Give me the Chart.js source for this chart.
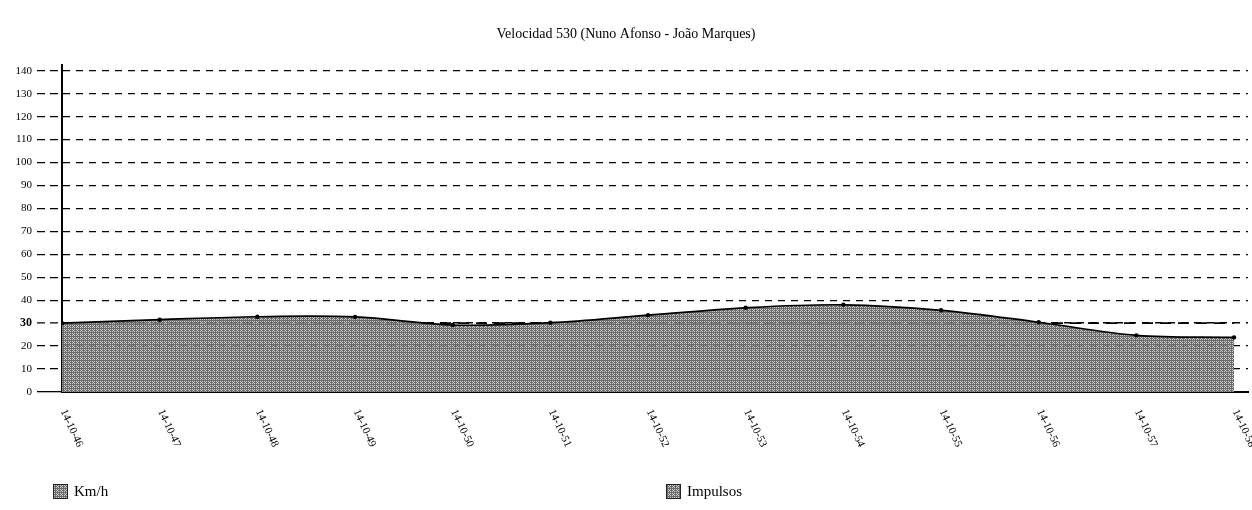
<!DOCTYPE html>
<html>
<head>
<meta charset="utf-8">
<script src="https://cdn.jsdelivr.net/npm/chart.js@4.4.1/dist/chart.umd.min.js"></script>
<style>
	html,body{margin:0;padding:0;background:#fff;}
	#wrap{width:1252px;height:510px;position:relative;}
</style>
</head>
<body>
<div id="wrap"><canvas id="grafica"></canvas></div>
<script>
// datos
var TITULO = "Velocidad 530 (Nuno Afonso - João Marques)";
var HORAS = ["14-10-46","14-10-47","14-10-48","14-10-49","14-10-50","14-10-51","14-10-52","14-10-53","14-10-54","14-10-55","14-10-56","14-10-57","14-10-58"];
var KMH = [30, 31.5, 32.8, 32.7, 29.2, 30.2, 33.5, 36.7, 38, 35.6, 30.4, 24.7, 23.8];
var IMPULSOS = [30, 30, 30, 30, 30, 30, 30, 30, 30, 30, 30, 30, 30];
var Y_TICKS = [0, 10, 20, 30, 40, 50, 60, 70, 80, 90, 100, 110, 120, 130, 140];
var SERIES = ["Km/h", "Impulsos"];

var FUENTE = '"Liberation Serif", "DejaVu Serif", serif';

// trama gris del area (tipo impresion)
function crearTrama(){
	var c = document.createElement('canvas');
	c.width = 4; c.height = 4;
	var g = c.getContext('2d');
	var bayer = [[0,8,2,10],[12,4,14,6],[3,11,1,9],[15,7,13,5]];
	for (var y = 0; y < 4; y++){
		for (var x = 0; x < 4; x++){
			g.fillStyle = bayer[y][x] < 11 ? 'rgba(100,100,100,0.96)' : 'rgba(195,195,195,0.8)';
			g.fillRect(x, y, 1, 1);
		}
	}
	return g.createPattern(c, 'repeat');
}

var puntosKmh = KMH.map(function(v, i){ return {x: i, y: v}; });
var puntosImp = IMPULSOS.map(function(v, i){ return {x: i, y: v}; });

var etiquetasX = {
	id: 'etiquetasX',
	afterDraw: function(chart){
		var ctx = chart.ctx;
		var xs = chart.scales.x;
		ctx.save();
		ctx.fillStyle = '#000';
		ctx.font = '11px ' + FUENTE;
		for (var i = 0; i < HORAS.length; i++){
			var px = xs.getPixelForValue(i);
			ctx.save();
			ctx.translate(px + 1, 410);
			ctx.rotate(65 * Math.PI / 180);
			ctx.textAlign = 'left';
			ctx.textBaseline = 'middle';
			ctx.fillText(HORAS[i], 0, 0);
			ctx.restore();
		}
		ctx.restore();
	}
};

var leyenda = {
	id: 'leyenda',
	afterDraw: function(chart){
		var ctx = chart.ctx;
		var pos = [53, 666];
		ctx.save();
		ctx.font = '15px ' + FUENTE;
		ctx.textBaseline = 'middle';
		for (var i = 0; i < SERIES.length; i++){
			ctx.fillStyle = '#fff';
			ctx.fillRect(pos[i], 484, 15, 15);
			ctx.fillStyle = trama;
			ctx.fillRect(pos[i], 484, 15, 15);
			ctx.strokeStyle = '#222';
			ctx.lineWidth = 1;
			ctx.strokeRect(pos[i] + 0.5, 484.5, 14, 14);
			ctx.fillStyle = '#000';
			ctx.fillText(SERIES[i], pos[i] + 21, 492);
		}
		ctx.restore();
	}
};

var trama = crearTrama();

var config = {
	type: 'line',
	data: {
		datasets: [{
			label: SERIES[0],
			data: puntosKmh,
			borderColor: '#000',
			borderWidth: 1.7,
			backgroundColor: trama,
			fill: 'origin',
			tension: 0.35,
			pointRadius: 2.2,
			pointBackgroundColor: '#000',
			pointBorderWidth: 0,
			order: 0
		},{
			label: SERIES[1],
			data: puntosImp,
			borderColor: '#000',
			borderWidth: 1.6,
			borderDash: [11, 7],
			fill: false,
			pointRadius: 0,
			order: 1
		}]
	},
	options: {
		responsive: false,
		animation: false,
		events: [],
		layout: {padding: 0},
		plugins: {
			legend: {display: false},
			tooltip: {enabled: false},
			title: {
				display: true,
				text: TITULO,
				color: '#000',
				font: {family: FUENTE, size: 14, weight: 'normal'},
				padding: {top: 26, bottom: 22}
			}
		},
		scales: {
			x: {
				type: 'linear',
				min: 0,
				max: 12.143,
				grid: {display: false},
				border: {display: true, color: '#000', width: 2},
				ticks: {display: false, stepSize: 1},
				afterFit: function(s){ s.height = 118; }
			},
			y: {
				min: 0,
				max: 142.6,
				afterBuildTicks: function(s){
					s.ticks = Y_TICKS.map(function(v){ return {value: v}; });
				},
				afterFit: function(s){ s.width = 62; },
				grid: {
					color: '#000',
					lineWidth: function(c){ return c.tick && c.tick.value === 30 ? 1.6 : 1.3; },
					tickLength: 25,
					tickColor: '#000',
					tickWidth: 1.3,
					tickBorderDash: function(c){ return c.tick && c.tick.value === 0 ? [] : [8, 5]; }
				},
				border: {
					display: true,
					color: '#000',
					width: 2,
					dash: function(c){ return c.tick && c.tick.value === 0 ? [] : [7, 6]; }
				},
				ticks: {
					color: '#000',
					padding: 5,
					font: function(c){
						return c.tick && c.tick.value === 30 ? {family: FUENTE, size: 12, weight: 'bold'} : {family: FUENTE, size: 11};
					}
				}
			}
		}
	},
	plugins: [etiquetasX, leyenda]
};

var canvas = document.getElementById("grafica");
canvas.width = 1252;
canvas.height = 510;
new Chart(canvas.getContext("2d"), config);
</script>
</body>
</html>
